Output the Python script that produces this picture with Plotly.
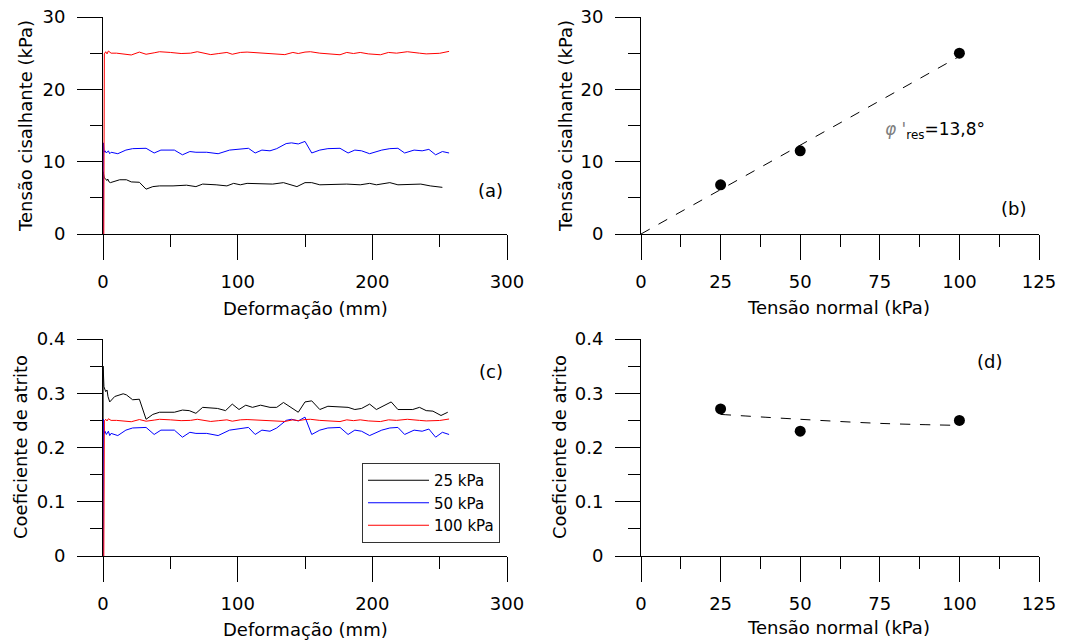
import plotly.graph_objects as go

# ---------------- data ----------------
# (a) shear stress vs displacement
a25_x = [0, 0.2, 0.8, 2, 3, 3.5, 4.5, 5.5, 8.7, 12.4, 17.4, 21, 27, 32, 37, 42, 52, 62, 69, 74, 84, 92, 97, 102, 107,
         117, 126, 134, 144, 150, 155, 161, 171, 181, 191, 198, 203, 213, 219, 230, 236, 243, 252]
a25_y = [0, 8.6, 7.8, 7.6, 7.4, 7.6, 7.2, 7.1, 7.3, 7.5, 7.5, 7.2, 7.15, 6.2, 6.55, 6.65, 6.65, 6.75, 6.55, 6.9, 6.8,
         6.65, 7.0, 6.8, 7.0, 6.9, 6.9, 7.1, 6.55, 7.1, 7.1, 6.8, 6.9, 6.9, 6.8, 7.0, 6.8, 7.1, 6.8, 6.8, 6.9, 6.65, 6.45]

a50_x = [0, 0.3, 0.8, 1.5, 2.5, 4, 5, 6, 11, 17, 22, 32, 38, 43, 53, 59, 64.5, 69, 77, 85.5, 94, 108, 113, 118, 124,
         129, 136, 140, 145, 150, 155, 161, 167, 176, 182, 187, 192, 198, 207, 213, 219, 224, 231, 237, 242, 247, 252, 257]
a50_y = [0, 12.6, 11.3, 11.5, 11.2, 11.5, 11.1, 11.3, 11.1, 11.6, 11.8, 11.85, 11.2, 11.6, 11.6, 10.95, 11.4, 11.3,
         11.3, 11.1, 11.6, 11.85, 11.2, 11.6, 11.5, 11.8, 12.5, 12.6, 12.45, 12.8, 11.2, 11.6, 11.8, 11.85, 11.2, 11.6,
         11.5, 11.1, 11.6, 11.8, 11.85, 11.2, 11.6, 11.5, 11.7, 10.95, 11.4, 11.2]

a100_x = [0.6, 0.6, 1, 2, 3, 4, 6, 10, 15, 21, 27, 32, 38, 42, 50, 58, 65, 70, 75, 80, 86, 92, 96, 102, 107, 115, 122,
          128, 135, 141, 145, 150, 154, 161, 168, 176, 181, 186, 191, 197, 206, 212, 218, 226, 235, 240, 250, 257]
a100_y = [0, 24.6, 24.9, 25.2, 24.9, 25.3, 25.0, 25.0, 24.9, 24.75, 25.15, 24.85, 25.05, 25.2, 25.1, 24.95, 25.0, 25.2,
          25.0, 24.8, 24.95, 25.1, 24.85, 25.1, 25.15, 25.05, 24.95, 24.9, 24.8, 25.1, 24.95, 25.15, 25.2, 25.0, 24.9,
          24.78, 25.1, 24.95, 25.1, 24.9, 24.78, 25.1, 25.0, 25.2, 25.0, 24.9, 24.98, 25.25]

# (b) failure envelope
b_sigma = [25, 50, 100]
b_tau = [6.8, 11.5, 25.0]
b_fit_x = [0, 100]
b_fit_y = [0, 24.56]

# (c) friction coefficient vs displacement
c25_x = [0, 0.1, 0.7, 2, 3, 3.7, 5, 8.7, 15, 17.4, 22, 27, 32, 37, 42, 53, 59, 64, 69, 74, 85, 91, 96, 101, 106, 111,
         117, 124, 129, 134, 145, 150, 155, 161, 167, 182, 187, 192, 198, 203, 214, 219, 230, 235, 240, 245, 251, 256]
c25_y = [0, 0.35, 0.312, 0.303, 0.306, 0.294, 0.284, 0.294, 0.299, 0.297, 0.288, 0.289, 0.252, 0.261, 0.265, 0.265,
         0.269, 0.268, 0.263, 0.274, 0.272, 0.268, 0.28, 0.270, 0.278, 0.274, 0.278, 0.274, 0.274, 0.283, 0.265, 0.284,
         0.286, 0.270, 0.276, 0.274, 0.27, 0.272, 0.28, 0.27, 0.284, 0.27, 0.27, 0.274, 0.268, 0.267, 0.259, 0.265]

c50_x = [0, 0.3, 0.8, 1.5, 2.5, 4, 5, 6, 11, 17, 22, 32, 38, 43, 53, 59, 64.5, 69, 77, 85.5, 94, 108, 113, 118, 124,
         129, 136, 140, 145, 150, 155, 161, 167, 176, 182, 187, 192, 198, 207, 213, 219, 224, 231, 237, 242, 247, 252, 257]
c50_y = [0, 0.252, 0.226, 0.23, 0.224, 0.23, 0.222, 0.226, 0.222, 0.232, 0.236, 0.237, 0.224, 0.232, 0.232, 0.219,
         0.228, 0.226, 0.226, 0.222, 0.232, 0.237, 0.224, 0.232, 0.23, 0.236, 0.25, 0.252, 0.249, 0.256, 0.224, 0.232,
         0.236, 0.237, 0.224, 0.232, 0.23, 0.222, 0.232, 0.236, 0.237, 0.224, 0.232, 0.23, 0.234, 0.219, 0.228, 0.224]

c100_x = [0.6, 0.6, 1, 2, 3, 4, 6, 10, 15, 21, 27, 32, 38, 42, 50, 58, 65, 70, 75, 80, 86, 92, 96, 102, 107, 115, 122,
          128, 135, 141, 145, 150, 154, 161, 168, 176, 181, 186, 191, 197, 206, 212, 218, 226, 235, 240, 250, 257]
c100_y = [0, 0.246, 0.249, 0.252, 0.249, 0.253, 0.250, 0.250, 0.249, 0.2475, 0.2515, 0.2485, 0.2505, 0.252, 0.251,
          0.2495, 0.250, 0.252, 0.250, 0.248, 0.2495, 0.251, 0.2485, 0.251, 0.2515, 0.2505, 0.2495, 0.249, 0.248,
          0.251, 0.2495, 0.2515, 0.252, 0.250, 0.249, 0.2478, 0.251, 0.2495, 0.251, 0.249, 0.2478, 0.251, 0.250,
          0.252, 0.250, 0.249, 0.2498, 0.2525]

# (d) friction coefficient vs normal stress
d_sigma = [25, 50, 100]
d_mu = [0.271, 0.230, 0.250]
d_fit_x = [25, 50, 75, 98]
d_fit_y = [0.261, 0.252, 0.2445, 0.241]

series_names = ["25 kPa", "50 kPa", "100 kPa"]
series_colors = ["#000000", "#0000ff", "#ff0000"]

# ---------------- figure ----------------
FONT = "DejaVu Sans, Verdana, sans-serif"
FS = 18
W, H = 1070, 642


def px(xp):
    return xp / W


def py(yp):
    return (H - yp) / H


fig = go.Figure()

for xs, ys, name, col in zip([a25_x, a50_x, a100_x], [a25_y, a50_y, a100_y], series_names, series_colors):
    fig.add_trace(go.Scatter(x=xs, y=ys, mode="lines", line=dict(color=col, width=1),
                             xaxis="x", yaxis="y", showlegend=False, legendgroup=name, name=name))

fig.add_trace(go.Scatter(x=b_fit_x, y=b_fit_y, mode="lines", line=dict(color="black", width=1, dash="10px,10px"),
                         xaxis="x2", yaxis="y2", showlegend=False))
fig.add_trace(go.Scatter(x=b_sigma, y=b_tau, mode="markers", marker=dict(color="black", size=11),
                         xaxis="x2", yaxis="y2", showlegend=False))

for xs, ys, name, col in zip([c25_x, c50_x, c100_x], [c25_y, c50_y, c100_y], series_names, series_colors):
    fig.add_trace(go.Scatter(x=xs, y=ys, mode="lines", line=dict(color=col, width=1),
                             xaxis="x3", yaxis="y3", showlegend=True, legendgroup=name, name=name))

fig.add_trace(go.Scatter(x=d_fit_x, y=d_fit_y, mode="lines", line=dict(color="black", width=1, dash="10px,10px",
                                                                      shape="spline"),
                         xaxis="x4", yaxis="y4", showlegend=False))
fig.add_trace(go.Scatter(x=d_sigma, y=d_mu, mode="markers", marker=dict(color="black", size=11),
                         xaxis="x4", yaxis="y4", showlegend=False))

XL = [px(103), px(507)]
XR = [px(641), px(1039)]
YT = [py(234), py(17)]
YB = [py(556), py(339)]

TICKFONT = dict(family=FONT, size=FS, color="black")


def axis(domain, anchor, rng, dtick, mdtick, standoff):
    return dict(domain=domain, anchor=anchor, range=rng, dtick=dtick, tick0=0, showgrid=False, zeroline=False,
                automargin=False, ticklabeloverflow="allow",
                showline=True, linecolor="black", linewidth=1, ticks="outside", ticklen=25, tickwidth=1,
                tickcolor="black", tickfont=TICKFONT, ticklabelstandoff=standoff, layer="below traces",
                minor=dict(dtick=mdtick, tick0=0, ticks="outside", ticklen=12, tickwidth=1, tickcolor="black",
                           showgrid=False))


fig.update_layout(
    template="none",
    width=W, height=H, margin=dict(l=0, r=0, t=0, b=0, pad=0, autoexpand=False),
    paper_bgcolor="white", plot_bgcolor="white",
    font=dict(family=FONT, size=FS, color="black"),
    xaxis=axis(XL, "y", [0, 300], 100, 50, 6),
    yaxis=axis(YT, "x", [0, 30], 10, 5, 8),
    xaxis2=axis(XR, "y2", [0, 125], 25, 12.5, 6),
    yaxis2=axis(YT, "x2", [0, 30], 10, 5, 8),
    xaxis3=axis(XL, "y3", [0, 300], 100, 50, 6),
    yaxis3=axis(YB, "x3", [0, 0.4], 0.1, 0.05, 8),
    xaxis4=axis(XR, "y4", [0, 125], 25, 12.5, 6),
    yaxis4=axis(YB, "x4", [0, 0.4], 0.1, 0.05, 8),
    showlegend=True,
    legend=dict(x=px(500), xanchor="right", y=py(463), yanchor="top",
                bordercolor="#333333", borderwidth=1, bgcolor="white",
                font=dict(family=FONT, size=15, color="black"), itemwidth=61,
                tracegroupgap=0),
)

ann = []


def title_x(text, xp, yp):
    ann.append(dict(text=text, x=px(xp), y=py(yp), xref="paper", yref="paper",
                    showarrow=False, xanchor="center", yanchor="middle", font=dict(family=FONT, size=FS)))


def title_y(text, xp, yp):
    ann.append(dict(text=text, x=px(xp), y=py(yp), xref="paper", yref="paper",
                    showarrow=False, xanchor="center", yanchor="middle", textangle=-90,
                    font=dict(family=FONT, size=FS)))


title_x("Deformação (mm)", 305, 308)
title_x("Tensão normal (kPa)", 838, 307)
title_x("Deformação (mm)", 305, 629)
title_x("Tensão normal (kPa)", 838, 627)
title_y("Tensão cisalhante (kPa)", 25, 126)
title_y("Tensão cisalhante (kPa)", 565, 126)
title_y("Coeficiente de atrito", 20, 447)
title_y("Coeficiente de atrito", 559, 447)

for lab, xp, yp in [("(a)", 490, 190), ("(b)", 1013, 208), ("(c)", 491, 371), ("(d)", 989, 362)]:
    ann.append(dict(text=lab, x=px(xp), y=py(yp), xref="paper", yref="paper", showarrow=False,
                    xanchor="center", yanchor="middle", font=dict(family=FONT, size=FS)))

ann.append(dict(text="<span style='color:#808080'><i>φ</i> '</span><sub>res</sub>=13,8°",
                x=px(883), y=py(131), xref="paper", yref="paper", showarrow=False,
                xanchor="left", yanchor="middle", font=dict(family=FONT, size=17)))

fig.update_layout(annotations=ann)
# remove the default 8px page margin so the 1070x642 figure fills the window exactly
fig.write_html("out.html", config={"displayModeBar": False},
               post_script="document.body.style.margin='0px';")
